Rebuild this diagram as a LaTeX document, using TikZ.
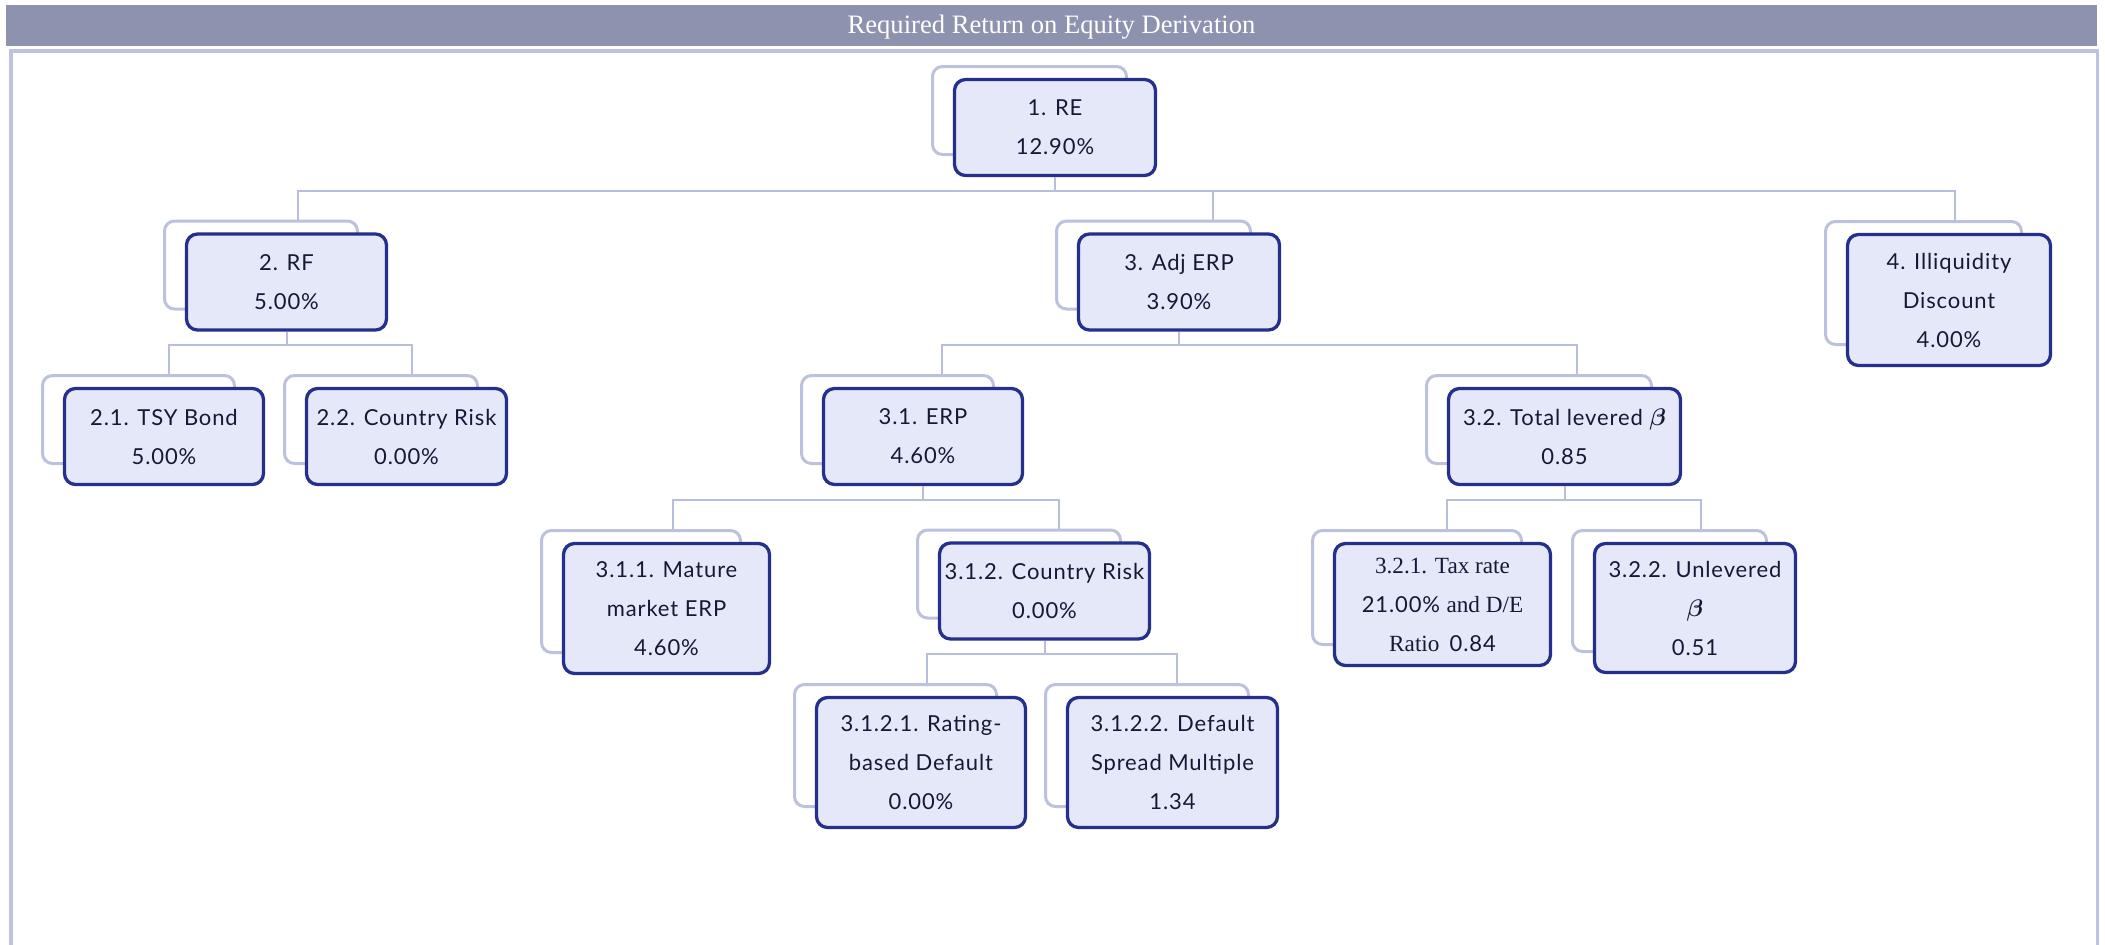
\documentclass[tikz,border=0pt]{standalone}
\usepackage{fontspec}
\usepackage{amsmath}
\setmainfont{Liberation Serif}
\newfontfamily\cardfont{Lato}[LetterSpace=4]
\usetikzlibrary{calc}

\definecolor{barfill}{HTML}{8D92AE}
\definecolor{framec}{HTML}{BCC2E0}
\definecolor{cardedge}{HTML}{24308C}
\definecolor{cardfill}{HTML}{E5E8F9}
\definecolor{shadowedge}{HTML}{BCC1DE}
\definecolor{linkc}{HTML}{B8BEDB}
\definecolor{inkc}{HTML}{161935}

\tikzset{
  card/.style={draw=cardedge, line width=1.65pt, fill=cardfill,
    rounded corners=5.5pt, align=center, text=inkc, inner sep=0pt,
    font=\cardfont\fontsize{11}{19.5}\selectfont},
  shadowcard/.style={draw=shadowedge, line width=1.5pt, fill=white,
    rounded corners=5pt, inner sep=0pt},
  link/.style={draw=linkc, line width=1pt},
}

% \card{name}{cx}{cy}{w}{h}{entry x}{text}: a card with its offset outline behind it
\newcommand\card[7]{%
  \node[shadowcard, minimum width={#4*0.5pt-3.5pt}, minimum height={#5*0.5pt-4pt}]
    (#1b) at (#2-25.5,#3-17) {};
  \node[card, minimum width={#4*0.5pt}, minimum height={#5*0.5pt}] (#1) at (#2,#3) {#7};
  \coordinate (#1-x) at (#6,0);
  \coordinate (#1-top) at (#1b.north -| #1-x);
}
% \branch{parent}{child}: elbow connector through the bus under the parent
\newcommand\branch[2]{\draw[link] (#1.south) -- ++(0,13.5) -| (#2-top);}
\newcommand\beet{{\fontsize{11.5}{11.5}\selectfont$\boldsymbol{\beta}$}}
\newcommand\srf[1]{{\rmfamily\fontsize{11.6}{19.5}\selectfont #1}}

\begin{document}
\begin{tikzpicture}[x=0.5pt, y=-0.5pt]
  \useasboundingbox (0,0) rectangle (2105,944);

  % title bar
  \fill[barfill] (6,5) rectangle (2097,46);
  \node[text=white, anchor=base, inner sep=0pt, font=\fontsize{13.3}{16}\selectfont]
    (title) at (1051.5,33.3) {Required Return on Equity Derivation};

  % frame
  \draw[framec, line width=1.75pt] (11,946) -- (11,51) -- (2097.5,51) -- (2097.5,946);

  % cards
  \card{re}{1055}{127.5}{201}{96}{1055}{1. RE\\12.90\%}
  \card{rf}{286.5}{282}{200}{96}{298}{2. RF\\5.00\%}
  \card{adj}{1179}{282}{201}{96}{1213}{3. Adj ERP\\3.90\%}
  \card{ill}{1949}{300}{203}{131}{1955}{4. Illiquidity\\Discount\\4.00\%}
  \card{tsy}{164}{436.5}{199}{96}{169}{2.1. TSY Bond\\5.00\%}
  \card{crA}{406.5}{436.5}{200}{96}{412}{2.2. Country Risk\\0.00\%}
  \card{erp}{923}{436.5}{199}{96}{941.5}{3.1. ERP\\4.60\%}
  \card{lev}{1564.5}{436.5}{232}{96}{1576.7}{3.2. Total levered \beet\\0.85}
  \card{mat}{666.5}{608.5}{206}{130}{672.7}{3.1.1. Mature\\market ERP\\4.60\%}
  \card{crB}{1044.5}{591}{210}{96}{1059}{3.1.2. Country Risk\\0.00\%}
  \card{tax}{1442.5}{604.5}{216}{122}{1447}{\srf{3.2.1. Tax rate}\\21.00\% \srf{and D/E}\\\srf{Ratio} \,0.84}
  \card{unl}{1695}{608}{201}{129}{1701}{3.2.2. Unlevered\\\beet\\0.51}
  \card{rat}{921}{762.5}{209}{130}{926.7}{3.1.2.1. Rating-\\based Default\\0.00\%}
  \card{spr}{1172.5}{762.5}{210}{130}{1176.7}{3.1.2.2. Default\\Spread Multiple\\1.34}

  % connectors
  \branch{re}{rf}
  \branch{re}{adj}
  \branch{re}{ill}
  \branch{rf}{tsy}
  \branch{rf}{crA}
  \branch{adj}{erp}
  \branch{adj}{lev}
  \branch{erp}{mat}
  \branch{erp}{crB}
  \branch{lev}{tax}
  \branch{lev}{unl}
  \branch{crB}{rat}
  \branch{crB}{spr}
\end{tikzpicture}
\end{document}
